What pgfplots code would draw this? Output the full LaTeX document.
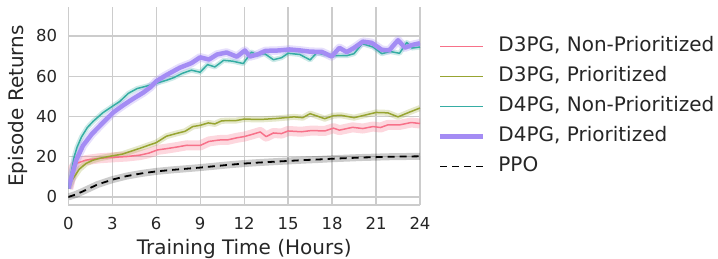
\documentclass[border=0pt]{standalone}
\usepackage{fontspec}
\setmainfont{DejaVu Sans}
\usepackage{pgfplots}
\usepackage{pgfplotstable}
\pgfplotsset{compat=1.18}
\definecolor{cpink}{HTML}{F77189}
\definecolor{colive}{HTML}{97A431}
\definecolor{cteal}{HTML}{36ADA4}
\definecolor{cpurple}{HTML}{A48CF4}
\definecolor{gridgray}{HTML}{CCCCCC}

\pgfplotstableread{
t y
0 4.2
0.35 14.5
0.6 16.8
1.2 18.3
2.1 19.2
3.1 19.7
4.0 20.1
4.9 20.8
5.5 21.8
6.1 23.4
6.7 24.0
7.4 24.8
8.1 25.7
9.0 25.6
9.6 27.6
10.3 28.3
10.9 28.4
11.5 29.4
12.0 30.0
12.5 31.0
13.1 32.3
13.5 30.0
14.0 31.8
14.55 31.5
15.0 32.8
15.9 32.4
16.6 33.0
17.5 32.8
18.1 34.2
18.5 33.2
19.4 34.6
20.1 34.0
20.8 35.0
21.3 34.5
21.8 35.8
22.6 35.8
23.4 37.0
24 36.5
}\pinkdata

\pgfplotstableread{
t y
0 4.2
0.25 8.3
0.75 13.8
1.2 16.6
1.65 18.2
2.2 19.3
2.9 20.3
3.7 21.3
4.4 23.0
4.9 24.2
5.4 25.5
6.0 27.0
6.7 30.2
7.4 31.6
7.96 32.6
8.5 35.0
9.0 35.6
9.55 36.8
10.0 36.3
10.45 37.8
11.0 38.0
11.4 37.9
12.0 38.7
13.1 38.5
14.2 39.0
15.4 39.8
16.0 39.4
16.5 41.4
17.5 38.9
18.1 40.4
18.6 40.6
19.5 39.4
20.2 40.6
21.0 42.0
21.8 41.8
22.5 39.8
23.3 42.2
24 44.2
}\olivedata

\pgfplotstableread{
t y
0 4.2
0.4 19.9
0.6 24.8
0.9 29.8
1.3 34.5
1.7 37.6
2.35 41.8
3.1 45.5
3.5 47.4
4.1 51.5
4.7 53.9
5.3 55.0
6.0 56.5
6.7 58.0
7.2 59.3
7.8 61.5
8.4 63.0
9.0 62.0
9.5 65.8
10.0 64.6
10.6 67.9
11.2 67.5
11.94 66.3
12.5 72.0
12.85 70.6
13.4 71.2
14.0 68.2
14.55 69.2
15.0 71.4
15.8 70.8
16.5 68.1
16.95 71.6
17.6 70.6
18.3 70.2
19.0 70.2
19.5 71.2
20.05 76.2
20.8 74.5
21.4 71.2
21.95 72.3
22.6 71.4
23.1 76.8
23.45 74.0
24 74.5
}\tealdata

\pgfplotstableread{
t y
0 4.2
0.3 12
0.55 18.5
1.0 25.5
1.6 31.2
2.0 34.2
2.4 37.2
3.1 42.2
3.75 45.6
4.4 48.7
5.1 51.8
5.6 54.5
6.0 57.5
6.6 60.2
7.0 61.8
7.6 64.2
8.4 66.5
9.0 69.4
9.6 68.3
10.15 70.8
10.8 71.8
11.5 69.7
12.05 72.8
12.4 69.8
12.9 70.8
13.45 72.6
14.35 72.8
15.1 73.3
15.85 72.8
16.5 72.2
17.3 72.1
17.97 69.8
18.5 74.1
19.0 72.0
19.5 74.1
20.1 77.2
20.7 76.6
21.4 73.1
21.9 72.9
22.5 77.9
22.97 74.2
23.5 75.6
24 76.4
}\purpledata

\pgfplotstableread{
t y
0 0
0.5 1.2
1 2.8
1.5 4.5
2 6.2
3 8.6
4 10.4
5 11.7
6 12.7
7 13.4
8 14.0
9 14.6
10 15.3
11 16.0
12 16.6
13 17.1
14 17.5
15 17.9
16 18.3
17 18.6
18 19.0
19 19.3
20 19.6
21 19.8
22 20.0
23 20.1
24 20.2
}\ppodata

\begin{document}
\begin{tikzpicture}
\useasboundingbox (0,0) rectangle (718pt,-258pt);
\begin{axis}[
  at={(68.3pt,-205pt)}, anchor=south west,
  scale only axis, width=351.7pt, height=198pt,
  xmin=0, xmax=24, ymin=-4, ymax=94.4,
  xtick={0,3,...,24}, ytick={0,20,...,80},
  axis x line*=bottom, axis y line*=left,
  axis line style={gridgray, line width=1.3pt, -},
  grid=major, major grid style={gridgray, line width=1.3pt},
  major tick length=0pt,
  tick label style={font=\fontsize{16.5}{20}\selectfont, text=black!85},
  /pgf/number format/assume math mode=true,
  xticklabel style={anchor=north, inner sep=0pt, yshift=-12pt},
  yticklabel style={anchor=east, inner sep=0pt, xshift=-11pt},
  xlabel={Training Time (Hours)},
  ylabel={Episode Returns},
  label style={font=\fontsize{20}{24}\selectfont, text=black!85},
  xlabel style={at={(axis description cs:0.5,-0.2505)}, anchor=base},
  ylabel style={at={(axis description cs:-0.128,0.5)}, anchor=base},
  legend style={at={(axis description cs:1.051,0.851)}, anchor=north west,
    draw=none, fill=none, inner sep=0pt, outer sep=0pt, row sep=10pt,
    font=\fontsize{20}{24}\selectfont, text=black!85,
    nodes={inner sep=0pt, text height=15pt, text depth=5pt},
    /tikz/every odd column/.append style={column sep=13pt}},
  legend cell align=left,
  legend image code/.code={\draw[#1] (0pt,0pt) -- (43pt,0pt);},
  line join=round,
]
% bands
\addplot[cpink, opacity=0.28, line width=10pt, forget plot] table[x=t,y=y] {\pinkdata};
\addplot[colive, opacity=0.25, line width=6pt, forget plot] table[x=t,y=y] {\olivedata};
\addplot[cteal, opacity=0.25, line width=5pt, forget plot] table[x=t,y=y] {\tealdata};
\addplot[cpurple, opacity=0.28, line width=8.5pt, forget plot] table[x=t,y=y] {\purpledata};
\addplot[black, opacity=0.2, line width=7pt, forget plot] table[x=t,y=y] {\ppodata};
% lines
\addplot[cpink, line width=1.5pt] table[x=t,y=y] {\pinkdata};
\addlegendentry{D3PG, Non-Prioritized}
\addplot[colive, line width=1.5pt] table[x=t,y=y] {\olivedata};
\addlegendentry{D3PG, Prioritized}
\addplot[cteal, line width=1.5pt] table[x=t,y=y] {\tealdata};
\addlegendentry{D4PG, Non-Prioritized}
\addplot[cpurple, line width=4.5pt] table[x=t,y=y] {\purpledata};
\addlegendentry{D4PG, Prioritized}
\addplot[black, line width=1.8pt, dash pattern=on 7pt off 5pt] table[x=t,y=y] {\ppodata};
\addlegendentry{PPO}
\end{axis}
\end{tikzpicture}
\end{document}
